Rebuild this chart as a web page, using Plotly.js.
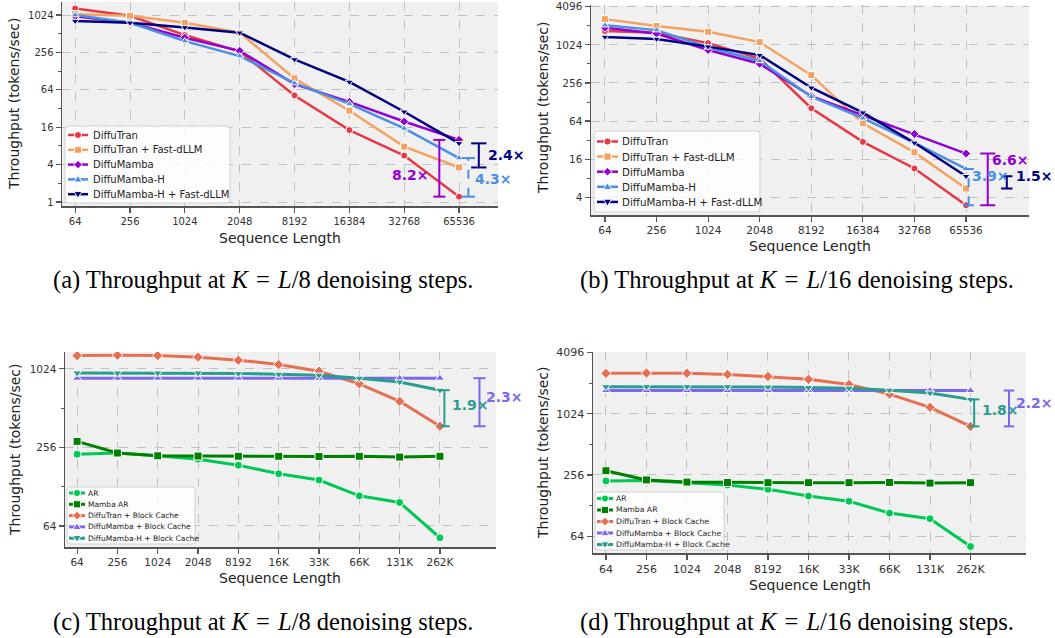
<!DOCTYPE html>
<html><head><meta charset="utf-8">
<script src="https://cdn.plot.ly/plotly-3.0.1.min.js"></script>
<style>html,body{margin:0;padding:0;background:#fff}#chart{width:1055px;height:638px}</style>
</head><body><div id="chart"></div><script>
// ---------------- DATA ----------------
const seqLenAB = ["64","256","1024","2048","8192","16384","32768","65536"];
const seqLenCD = ["64","256","1024","2048","8192","16K","33K","66K","131K","262K"];

const namesAB = ["DiffuTran","DiffuTran + Fast-dLLM","DiffuMamba","DiffuMamba-H","DiffuMamba-H + Fast-dLLM"];
const namesCD = ["AR","Mamba AR","DiffuTran + Block Cache","DiffuMamba + Block Cache","DiffuMamba-H + Block Cache"];

// (a) K = L/8
const a_diffuTran        = [1310, 1000, 488, 265, 52, 14.4, 5.6, 1.22];
const a_diffuTranFast    = [1060, 1000, 770, 532, 98, 29.5, 7.8, 3.6];
const a_diffuMamba       = [980, 770, 442, 272, 79, 41, 19.8, 10];
const a_diffuMambaH      = [1024, 770, 390, 224, 82, 38, 15.3, 5.1];
const a_diffuMambaHFast  = [820, 770, 648, 532, 198, 86, 28.4, 8.8];

// (b) K = L/16
const b_diffuTran        = [1690, 1590, 1090, 623, 102, 30, 11.4, 3.0];
const b_diffuTranFast    = [2610, 2030, 1645, 1130, 340, 59, 20.5, 5.5];
const b_diffuMamba       = [1910, 1545, 850, 515, 158, 79, 40, 19.6];
const b_diffuMambaH      = [2090, 1750, 940, 570, 155, 71, 29, 11.2];
const b_diffuMambaHFast  = [1365, 1265, 960, 705, 215, 87, 29, 8.6];

// (c) K = L/8, block cache
const c_ar               = [227, 232, 221, 208, 187, 161, 144, 109, 97, 52];
const c_mambaAR          = [285, 232, 221, 220, 219, 219, 218, 219, 216, 219];
const c_diffuTranBC      = [1295, 1305, 1295, 1260, 1195, 1105, 983, 787, 578, 372];
const c_diffuMambaBC     = [869, 869, 869, 869, 869, 869, 869, 869, 869, 869];
const c_diffuMambaHBC    = [953, 953, 953, 953, 945, 933, 917, 869, 813, 703];

// (d) K = L/16, block cache
const d_ar               = [224, 226, 215, 204, 185, 159, 141, 108, 95, 50.6];
const d_mambaAR          = [282, 229, 218, 216, 215, 215, 215, 216, 213, 215];
const d_diffuTranBC      = [2560, 2580, 2560, 2500, 2385, 2240, 1990, 1600, 1185, 770];
const d_diffuMambaBC     = [1735, 1735, 1735, 1735, 1735, 1735, 1735, 1735, 1735, 1735];
const d_diffuMambaHBC    = [1895, 1895, 1895, 1895, 1880, 1855, 1830, 1750, 1640, 1420];

const yTicksA = [1,4,16,64,256,1024];
const yTicksB = [4,16,64,256,1024,4096];
const yTicksC = [64,256,1024];
const yTicksD = [64,256,1024,4096];

const captions = [
  "(a) Throughput at <i>K</i>\u2004=\u2004<i>L</i>/8 denoising steps.",
  "(b) Throughput at <i>K</i>\u2004=\u2004<i>L</i>/16 denoising steps.",
  "(c) Throughput at <i>K</i>\u2004=\u2004<i>L</i>/8 denoising steps.",
  "(d) Throughput at <i>K</i>\u2004=\u2004<i>L</i>/16 denoising steps."
];

// ---------------- STYLE ----------------
const colAB = ["#e63946","#f4a261","#9400d3","#4a90e2","#000080"];
const symAB = ["circle","square","diamond","triangle-up","triangle-down"];
const colCD = ["#00c853","#008000","#e76f51","#7b68ee","#2a9d8f"];
const symCD = ["circle","square","diamond","triangle-up","triangle-down"];

const W = 1055, H = 638;
const px = x => x / W, py = y => 1 - y / H;
const traces = [], shapes = [], annotations = [];
const FONT = "DejaVu Sans, Verdana, sans-serif";

function addSeries(xa, ya, cats, vals, name, color, symbol, lw, ms) {
  traces.push({type:"scatter", mode:"lines+markers", x:cats, y:vals, name:name,
    xaxis:xa, yaxis:ya, showlegend:false, hoverinfo:"skip",
    line:{color:color, width:lw},
    marker:{symbol:symbol, size:ms, color:color, line:{color:"#ffffff", width:1}}});
}

const setA = [a_diffuTran,a_diffuTranFast,a_diffuMamba,a_diffuMambaH,a_diffuMambaHFast];
const setB = [b_diffuTran,b_diffuTranFast,b_diffuMamba,b_diffuMambaH,b_diffuMambaHFast];
const setC = [c_ar,c_mambaAR,c_diffuTranBC,c_diffuMambaBC,c_diffuMambaHBC];
const setD = [d_ar,d_mambaAR,d_diffuTranBC,d_diffuMambaBC,d_diffuMambaHBC];
setA.forEach((v,i)=>addSeries("x","y",seqLenAB,v,namesAB[i],colAB[i],symAB[i],2.5,7));
setB.forEach((v,i)=>addSeries("x2","y2",seqLenAB,v,namesAB[i],colAB[i],symAB[i],2.5,7));
setC.forEach((v,i)=>addSeries("x3","y3",seqLenCD,v,namesCD[i],colCD[i],symCD[i],3,8));
setD.forEach((v,i)=>addSeries("x4","y4",seqLenCD,v,namesCD[i],colCD[i],symCD[i],3,8));

function xax(domain, anchor, cats, range, fs) {
  return {domain:domain, anchor:anchor, type:"category", categoryorder:"array", categoryarray:cats,
    range:range, showgrid:true, gridcolor:"#c2c2c2", griddash:"dash", gridwidth:1,
    showline:true, linecolor:"#555", linewidth:1.5, ticks:"outside", ticklen:5, tickcolor:"#555", tickwidth:1.2,
    tickfont:{family:FONT, size:fs, color:"#333"}, zeroline:false, fixedrange:true, ticklabeloverflow:"allow"};
}
function yax(domain, anchor, range, tickvals, minorvals, fs) {
  return {domain:domain, anchor:anchor, type:"log", range:range, tickmode:"array", tickvals:tickvals,
    ticktext:tickvals.map(String), showgrid:true, gridcolor:"#c2c2c2", griddash:"dash", gridwidth:1,
    showline:true, linecolor:"#555", linewidth:1.5, ticks:"outside", ticklen:5, tickcolor:"#555", tickwidth:1.2,
    tickfont:{family:FONT, size:fs, color:"#333"}, zeroline:false, fixedrange:true, ticklabeloverflow:"allow",
    minor:{tickmode:"array", tickvals:minorvals, ticks:"outside", ticklen:3, tickcolor:"#555", tickwidth:1, showgrid:false}};
}
const L2 = Math.LN2/Math.LN10;

// ---------------- LEGENDS (drawn) ----------------
function markerPath(sym, cx, cy, r) {
  let pts;
  if (sym === "diamond") pts = [[cx,cy-r*1.2],[cx+r*1.2,cy],[cx,cy+r*1.2],[cx-r*1.2,cy]];
  else if (sym === "triangle-up") pts = [[cx,cy-r*1.15],[cx+r*1.15,cy+r*0.75],[cx-r*1.15,cy+r*0.75]];
  else if (sym === "triangle-down") pts = [[cx,cy+r*1.15],[cx+r*1.15,cy-r*0.75],[cx-r*1.15,cy-r*0.75]];
  else if (sym === "square") pts = [[cx-r,cy-r],[cx+r,cy-r],[cx+r,cy+r],[cx-r,cy+r]];
  return "M" + pts.map(p => px(p[0]).toFixed(5) + "," + py(p[1]).toFixed(5)).join(" L") + " Z";
}
function roundRect(x0,y0,x1,y1,r){
  const P=(x,y)=>px(x).toFixed(5)+","+py(y).toFixed(5);
  return "M"+P(x0+r,y0)+" L"+P(x1-r,y0)+" Q"+P(x1,y0)+" "+P(x1,y0+r)+" L"+P(x1,y1-r)+" Q"+P(x1,y1)+" "+P(x1-r,y1)+
    " L"+P(x0+r,y1)+" Q"+P(x0,y1)+" "+P(x0,y1-r)+" L"+P(x0,y0+r)+" Q"+P(x0,y0)+" "+P(x0+r,y0)+" Z";
}
function drawLegend(box, row0, gap, s0, s1, tx, fs, names, cols, syms, lw, mr) {
  shapes.push({type:"path", xref:"paper", yref:"paper", path:roundRect(box[0],box[1],box[2],box[3],3),
    fillcolor:"rgba(255,255,255,0.82)", line:{color:"#d0d0d0", width:1}});
  names.forEach((n,i)=>{
    const y = row0 + i*gap, cx = (s0+s1)/2;
    shapes.push({type:"line", xref:"paper", yref:"paper", x0:px(s0), x1:px(s1), y0:py(y), y1:py(y),
      line:{color:cols[i], width:lw}});
    if (syms[i] === "circle") {
      shapes.push({type:"circle", xref:"paper", yref:"paper", x0:px(cx-mr), x1:px(cx+mr), y0:py(y+mr), y1:py(y-mr),
        fillcolor:cols[i], line:{color:"#fff", width:1}});
    } else {
      shapes.push({type:"path", xref:"paper", yref:"paper", path:markerPath(syms[i],cx,y,mr),
        fillcolor:cols[i], line:{color:"#fff", width:1}});
    }
    annotations.push({xref:"paper", yref:"paper", x:px(tx), y:py(y), xanchor:"left", yanchor:"middle",
      text:n, showarrow:false, borderpad:0, font:{family:FONT, size:fs, color:"#222"}});
  });
}
drawLegend([65,126,230,203], 135, 14.8, 68, 88, 92, 10, namesAB, colAB, symAB, 2.5, 3.5);
drawLegend([594,131,760,212], 141.5, 15.1, 597, 618, 621, 10.3, namesAB, colAB, symAB, 2.5, 3.6);
drawLegend([67,487,195,544], 493, 11.3, 69, 85, 87, 7.5, namesCD, colCD, symCD, 3, 3.6);
drawLegend([595,492,724,550], 498.5, 11.5, 597, 613, 615, 7.7, namesCD, colCD, symCD, 3, 3.6);

// ---------------- RATIO BRACKETS ----------------
function bracket(xr, yr, xc, half, vTop, vBot, color, dash, label, side, xshift, yshift) {
  shapes.push({type:"line", xref:xr, yref:yr, x0:xc, x1:xc, y0:vBot, y1:vTop, line:{color:color, width:2, dash:dash}});
  shapes.push({type:"line", xref:xr, yref:yr, x0:xc-half, x1:xc+half, y0:vTop, y1:vTop, line:{color:color, width:2}});
  shapes.push({type:"line", xref:xr, yref:yr, x0:xc-half, x1:xc+half, y0:vBot, y1:vBot, line:{color:color, width:2}});
  annotations.push({xref:xr, yref:yr, x:xc, y:(Math.log10(vTop)+Math.log10(vBot))/2,
    xanchor:side, yanchor:"middle", xshift:xshift, yshift:yshift, showarrow:false,
    text:"<b>"+label+"</b>", font:{family:FONT, size:14, color:color}});
}
const la = seqLenAB.length-1, lc = seqLenCD.length-1;
bracket("x","y", la-0.36, 0.11, a_diffuMamba[la], a_diffuTran[la], colAB[2], "solid", "8.2×", "right", -8, -7);
bracket("x","y", la+0.17, 0.12, a_diffuMambaH[la], a_diffuTran[la], colAB[3], "dash", "4.3×", "left", 5, -2);
bracket("x","y", la+0.36, 0.14, a_diffuMambaHFast[la], a_diffuTranFast[la], colAB[4], "solid", "2.4×", "left", 7, 0);

bracket("x2","y2", la+0.42, 0.145, b_diffuMamba[la], b_diffuTran[la], colAB[2], "solid", "6.6×", "left", 2, 19);
bracket("x2","y2", la+0.05, 0.10, b_diffuMambaH[la], b_diffuTran[la], colAB[3], "dash", "3.9×", "left", 1, 11);
bracket("x2","y2", la+0.79, 0.11, b_diffuMambaHFast[la], b_diffuTranFast[la], colAB[4], "solid", "1.5×", "left", 7, 6);

bracket("x3","y3", lc+0.11, 0.13, c_diffuMambaHBC[lc], c_diffuTranBC[lc], colCD[4], "solid", "1.9×", "left", 6, 3);
bracket("x3","y3", lc+0.98, 0.15, c_diffuMambaBC[lc], c_diffuTranBC[lc], colCD[3], "solid", "2.3×", "left", 5, 5);

bracket("x4","y4", lc+0.09, 0.13, d_diffuMambaHBC[lc], d_diffuTranBC[lc], colCD[4], "solid", "1.8×", "left", 6, 3);
bracket("x4","y4", lc+0.95, 0.13, d_diffuMambaBC[lc], d_diffuTranBC[lc], colCD[3], "solid", "2.2×", "left", 5, 5);

// ---------------- AXIS TITLES & CAPTIONS ----------------
function ptext(x, y, text, size, angle, family, color) {
  annotations.push({xref:"paper", yref:"paper", x:px(x), y:py(y), xanchor:"center", yanchor:"middle",
    text:text, textangle:angle||0, showarrow:false, font:{family:family||FONT, size:size, color:color||"#222"}});
}
ptext(14, 104, "Throughput (tokens/sec)", 14, -90);
ptext(280, 238, "Sequence Length", 14);
ptext(543, 108, "Throughput (tokens/sec)", 14, -90);
ptext(810, 246, "Sequence Length", 14);
ptext(15, 450, "Throughput (tokens/sec)", 14, -90);
ptext(280, 578, "Sequence Length", 14);
ptext(543, 453, "Throughput (tokens/sec)", 14, -90);
ptext(810, 585, "Sequence Length", 14);

const SERIF = "Liberation Serif, Times New Roman, serif";
ptext(263, 280, captions[0], 24.5, 0, SERIF, "#000");
ptext(797, 280, captions[1], 24.5, 0, SERIF, "#000");
ptext(263, 622, captions[2], 24.5, 0, SERIF, "#000");
ptext(797, 622, captions[3], 24.5, 0, SERIF, "#000");

// ---------------- LAYOUT ----------------
const layout = {
  width:W, height:H, margin:{l:0,r:0,t:0,b:0}, paper_bgcolor:"#ffffff", plot_bgcolor:"#f0f0f0",
  showlegend:false, hovermode:false,
  xaxis:  xax([62/W, 498/W], "y",  seqLenAB, [-0.24, 7.71], 10),
  yaxis:  yax([1-206/H, 1-2/H], "x", [-0.214*L2, 10.7*L2], yTicksA, [2,8,32,128,512], 10),
  xaxis2: xax([591/W, 1029/W], "y2", seqLenAB, [-0.27, 8.22], 10.5),
  yaxis2: yax([1-215/H, 1-5.4/H], "x2", [1.07*L2, 12.07*L2], yTicksB, [8,32,128,512,2048], 10.5),
  xaxis3: xax([65/W, 496/W], "y3", seqLenCD, [-0.30, 10.39], 10.5),
  yaxis3: yax([1-547/H, 1-352/H], "x3", [5.465*L2, 10.43*L2], yTicksC, [128,512], 10.5),
  xaxis4: xax([593/W, 1026/W], "y4", seqLenCD, [-0.32, 10.37], 11),
  yaxis4: yax([1-553/H, 1-352/H], "x4", [5.45*L2, 12.02*L2], yTicksD, [128,512,2048], 11),
  shapes:shapes, annotations:annotations
};
Plotly.newPlot("chart", traces, layout, {displayModeBar:false, staticPlot:true});
</script></body></html>
